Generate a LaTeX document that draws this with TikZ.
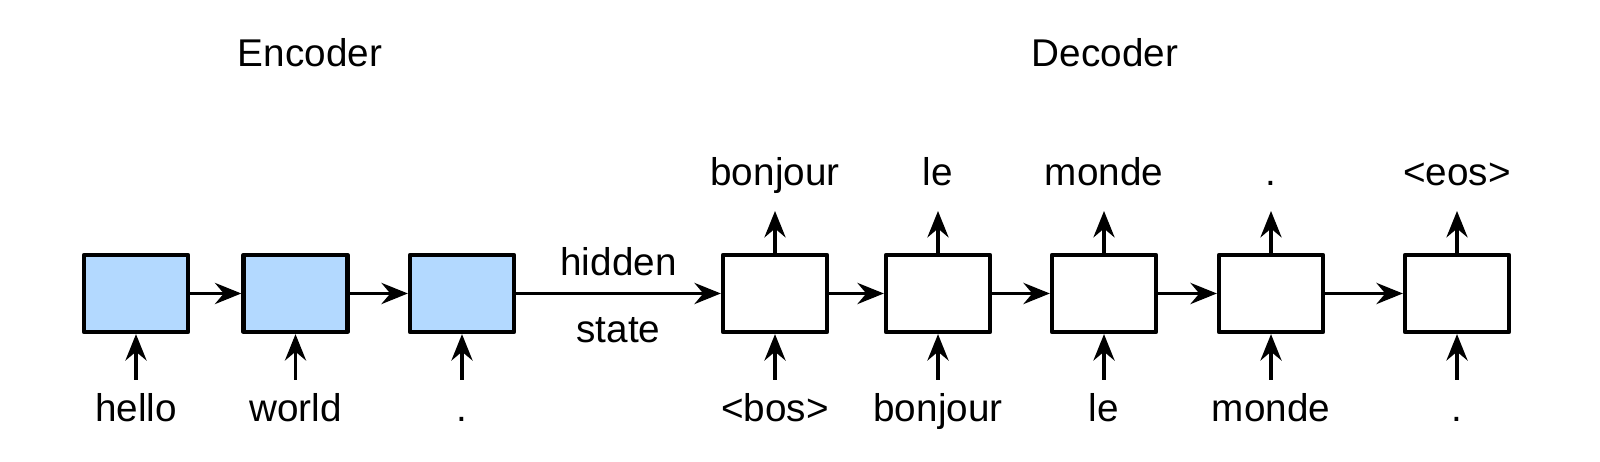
\documentclass[tikz,border=0pt]{standalone}
\usepackage{fontspec}
\setmainfont{Liberation Sans}
\usetikzlibrary{arrows.meta}
\definecolor{encblue}{RGB}{179,217,255}
\tikzset{
	cell/.style={draw, line width=1.2pt, minimum width=1.04cm, minimum height=0.77cm, inner sep=0pt},
	enccell/.style={cell, fill=encblue},
	flow/.style={->, line width=1.05pt},
	word/.style={anchor=base, inner sep=0pt}
}
\begin{document}
\begin{tikzpicture}[x=0.01cm, y=-0.01cm, font=\fontsize{11}{13}\selectfont, line join=round, >={Stealth[length=7.5pt,width=6pt,inset=2.5pt]}]
	\useasboundingbox (0,0) rectangle (1600,462);
	\node[word] (enctitle) at (310,67) {Encoder};
	\node[word] (dectitle) at (1105,67) {Decoder};
	% encoder
	\foreach \i/\x/\w in {1/136/hello,2/295.5/world,3/462/.} {
		\node[enccell] (e\i) at (\x,293.5) {};
		\node[word] (ein\i) at (\x,422) {\w};
		\coordinate (ea\i) at (\x,380);
		\draw[flow] (ea\i) -- (e\i);
	}
	% decoder
	\foreach \i/\x/\w/\o in {1/775/{<bos>}/bonjour,2/938/bonjour/le,3/1104/le/monde,4/1271/monde/.,5/1457/./{<eos>}} {
		\node[cell] (d\i) at (\x,293.5) {};
		\node[word] (din\i) at (\x,422) {\w};
		\node[word] (dout\i) at (\x,186) {\o};
		\coordinate (da\i) at (\x,380);
		\coordinate (dt\i) at (\x,211);
		\draw[flow] (da\i) -- (d\i);
		\draw[flow] (d\i) -- (dt\i);
	}
	\foreach \i/\j in {1/2,2/3} \draw[flow] (e\i) -- (e\j);
	\foreach \i/\j in {1/2,2/3,3/4,4/5} \draw[flow] (d\i) -- (d\j);
	\draw[flow] (e3) -- (d1) node[midway, above=1.2pt] {hidden} node[midway, below=3pt] {state};
\end{tikzpicture}
\end{document}
